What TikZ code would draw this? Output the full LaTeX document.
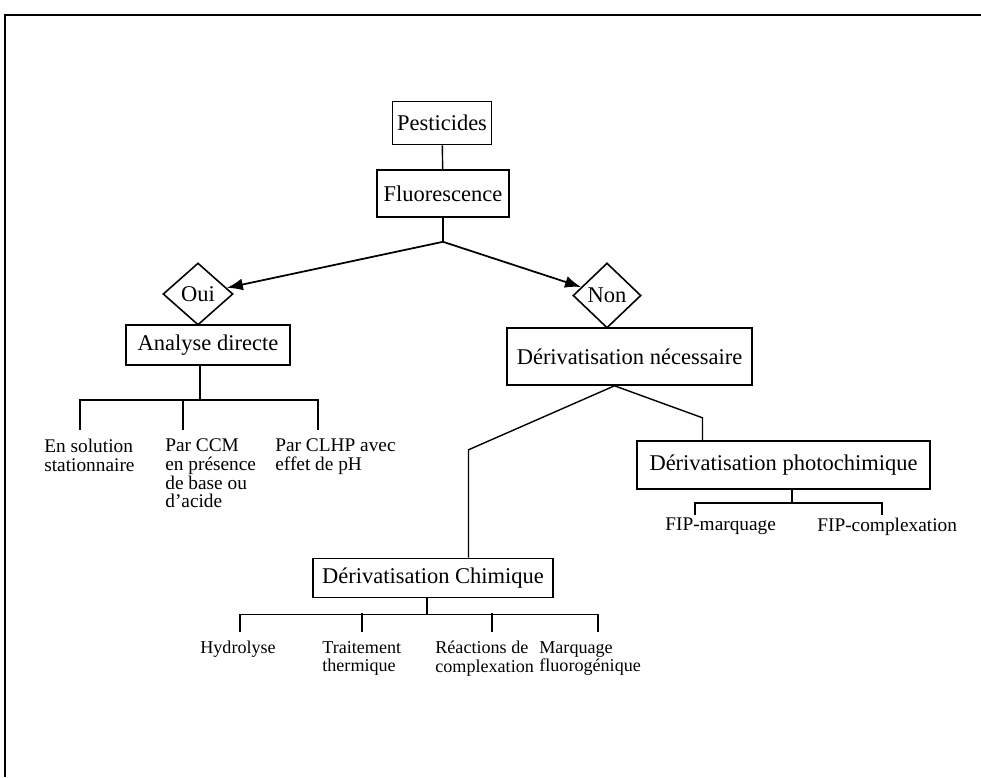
\documentclass[tikz,border=0pt]{standalone}
\usepackage{fontspec}
\setmainfont{Liberation Serif}
\usepackage{tikz}
\usetikzlibrary{arrows.meta,shapes.geometric,calc}

\begin{document}
\begin{tikzpicture}[x=0.2mm,y=-0.2mm,
  box/.style={draw,line width=.9pt,inner sep=0pt,font=\fontsize{12.8}{15}\selectfont},
  choice/.style={diamond,draw,line width=.9pt,inner sep=0pt,font=\fontsize{12.8}{15}\selectfont},
  leaf/.style={anchor=north west,align=left,inner xsep=0pt,inner ysep=5pt,font=\fontsize{11}{10.6}\selectfont},
  small/.style={leaf,font=\fontsize{10.3}{10.4}\selectfont},
  link/.style={draw,line width=.8pt},
  arrow/.style={link,line width=1pt,-{Latex[length=3.2mm,width=2.4mm]}},
  frame/.style={draw,line width=1pt}]

\path[use as bounding box] (0,0) rectangle (981,777);
\draw[frame] (5,777)--(5,15)--(981,15);

\node[box,minimum width=19.8mm,minimum height=8.6mm] (pest) at (442,123) {Pesticides};
\node[box,minimum width=26.4mm,minimum height=9.4mm] (fluo) at (443,193.5) {Fluorescence};
\node[choice,minimum width=14mm,minimum height=12.4mm] (oui) at (198,294) {Oui};
\node[choice,minimum width=13.6mm,minimum height=13mm] (non) at (607,295.5) {Non};
\node[box,minimum width=32.8mm,minimum height=8mm] (analyse) at (208,345) {Analyse directe};
\node[box,minimum width=49mm,minimum height=11.4mm] (neces) at (629.5,356.5) {Dérivatisation nécessaire};
\node[box,minimum width=58.6mm,minimum height=9.6mm] (photo) at (783.5,465) {Dérivatisation photochimique};
\node[box,minimum width=48mm,minimum height=7.8mm] (chim) at (433,578) {Dérivatisation Chimique};

\node[leaf] (sol) at (44,430) {En solution\\stationnaire};
\node[leaf] (ccm) at (165,430) {Par CCM\\en présence\\de base ou\\d'acide};
\node[leaf] (clhp) at (275,430) {Par CLHP avec\\effet de pH};
\node[leaf,inner ysep=1.5pt] (fmarq) at (665,515) {FIP-marquage};
\node[leaf,inner ysep=1.5pt] (fcomp) at (817,515) {FIP-complexation};
\node[small] (hydro) at (200,632) {Hydrolyse};
\node[small] (trait) at (322,632) {Traitement\\thermique};
\node[small] (react) at (435,632) {Réactions de\\complexation};
\node[small] (marq) at (539,632) {Marquage\\fluorogénique};

\draw[link] (pest)--(fluo);
\draw[link] (fluo.south)--++(0,24) coordinate (fork);
\draw[arrow] (fork)--(oui);
\draw[arrow] (fork)--(non);

\draw[link] ([xshift=-1.6mm]analyse.south)--++(0,34) coordinate (abar);
\draw[link] ([xshift=7.2mm]sol.north west) |- (abar) -| ([xshift=8.6mm]clhp.north west);
\draw[link] ([xshift=3.6mm]ccm.north west)--++(0,-31);

\draw[link] ([xshift=-3mm]neces.south)--++(-146,64) coordinate (lknee)--(lknee |- chim.north);
\draw[link] ([xshift=-3mm]neces.south)--++(88,32) coordinate (rknee)--(rknee |- photo.north);

\draw[link] ([xshift=1.7mm]photo.south)--++(0,13) coordinate (pbar);
\draw[link] ([xshift=6mm]fmarq.north west) |- (pbar) -| ([xshift=13mm]fcomp.north west);

\draw[link] ([xshift=-1.2mm]chim.south)--++(0,16) coordinate (cbar);
\draw[link] ([xshift=8mm]hydro.north west) |- (cbar) -| ([xshift=11.8mm]marq.north west);
\draw[link] ([xshift=8mm]trait.north west)--++(0,-19);
\draw[link] ([xshift=11.4mm]react.north west)--++(0,-19);

\end{tikzpicture}
\end{document}
